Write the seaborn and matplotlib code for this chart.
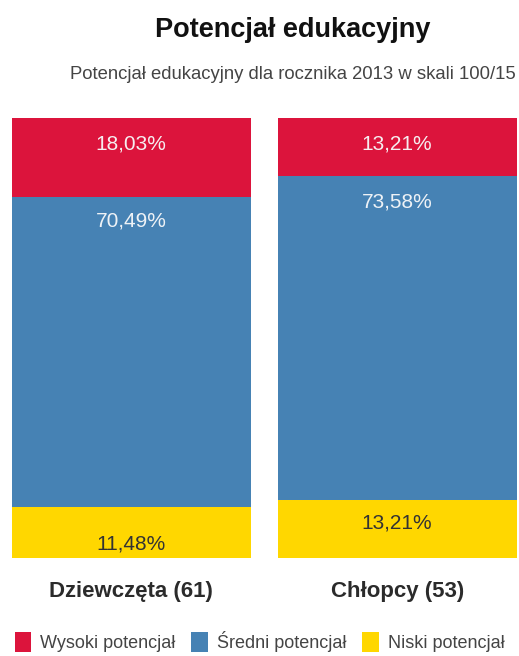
import matplotlib
matplotlib.use("Agg")
import matplotlib.pyplot as plt
import seaborn as sns
import numpy as np
from matplotlib.patches import Patch

categories = ["Dziewczęta (61)", "Chłopcy (53)"]
series_names = ["Wysoki potencjał", "Średni potencjał", "Niski potencjał"]
wysoki = [18.03, 13.21]
sredni = [70.49, 73.58]
niski = [11.48, 13.21]
title = "Potencjał edukacyjny"
subtitle = "Potencjał edukacyjny dla rocznika 2013 w skali 100/15"

sns.set_theme(style="white")
plt.rcParams["font.family"] = ["Liberation Sans", "DejaVu Sans"]

colors = ["#DC143C", "#4682B4", "#FFD700"]
label_colors = ["#f6eef0", "#eef2f6", "#333333"]

fig = plt.figure(figsize=(5.19, 6.56), dpi=100)
ax = fig.add_axes([0, 0.150, 1, 0.670])

w = np.array(wysoki); s = np.array(sredni); n = np.array(niski)
tops = [w + s + n, s + n, n]
for h, c in zip(tops, colors):
    sns.barplot(x=categories, y=h, color=c, width=0.898, ax=ax, saturation=1, linewidth=0)

ax.set_xlim(-0.493, 1.458)
ax.set_ylim(0, 100)
for sp in ax.spines.values():
    sp.set_visible(False)
ax.set_yticks([])
ax.tick_params(axis="x", length=0, pad=17)
ax.set_xticks(range(len(categories)))
ax.set_xticklabels(categories, fontsize=16, fontweight="bold", color="#2b2b2b")
ax.set_ylabel("")

# value labels, placed a bit below each segment's top
values = [w, s, n]
offsets = [[26, 24, 37], [26, 26, 23]]  # px below segment top, per category
px_per_unit = 439.5 / 100
for i in range(len(categories)):
    for k in range(3):
        top = tops[k][i]
        y = top - offsets[i][k] / px_per_unit
        ax.text(i, y, f"{values[k][i]:.2f}%".replace(".", ","), ha="center", va="center",
                fontsize=15, color=label_colors[k])

fig.text(0.565, 0.955, title, ha="center", va="center", fontsize=19.5, fontweight="bold", color="#111111")
fig.text(0.994, 0.886, subtitle, ha="right", va="center", fontsize=13.3, color="#444444")

handles = [Patch(facecolor=c, edgecolor="none") for c in colors]
fig.legend(handles, series_names, loc="center", bbox_to_anchor=(0.5, 0.022), ncol=3, frameon=False,
           fontsize=13, handlelength=0.9, handleheight=1.3, handletextpad=0.5, columnspacing=0.9,
           labelcolor="#444444")

fig.savefig("out.png", dpi=100)
